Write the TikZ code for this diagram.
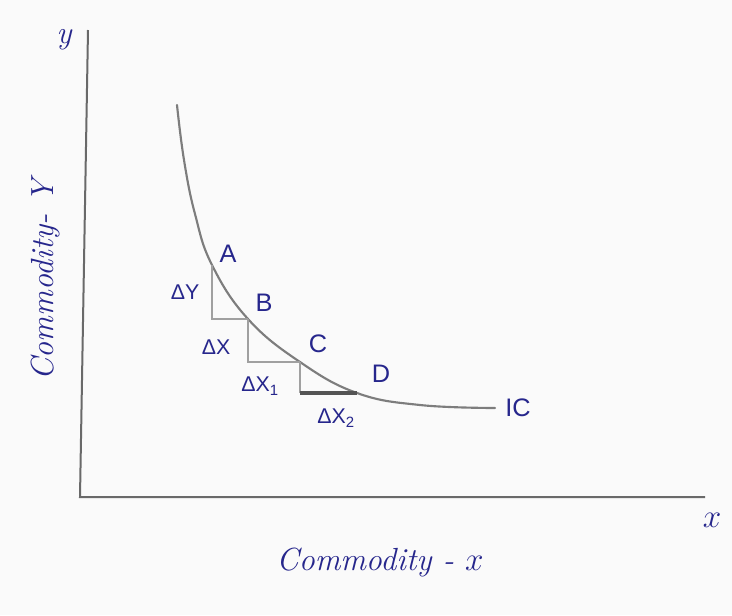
\documentclass[tikz,border=0pt]{standalone}
\usepackage{fontspec}
\newfontfamily\hand{Liberation Sans}
\definecolor{ink}{RGB}{38,38,140}
\definecolor{axisgray}{RGB}{105,105,105}
\definecolor{curvegray}{RGB}{125,125,125}
\definecolor{stepgray}{RGB}{160,160,160}
\definecolor{paper}{RGB}{250,250,250}
\tikzset{
  lbl/.style={text=ink, font=\hand\fontsize{19}{21}\selectfont, inner sep=0pt},
  dlbl/.style={text=ink, font=\hand\fontsize{16}{18}\selectfont, inner sep=0pt},
  axlbl/.style={text=ink, font=\fontsize{24}{26}\selectfont\itshape, inner sep=0pt},
  axisline/.style={draw=axisgray, line width=1.5pt},
  iccurve/.style={draw=curvegray, line width=1.6pt, line cap=round},
  stepline/.style={draw=stepgray, line width=1.3pt},
  thickstep/.style={draw=axisgray!80!black, line width=3pt}
}
\begin{document}
\begin{tikzpicture}[x=0.75pt, y=-0.75pt]
\fill[paper] (0,0) rectangle (732,615);
\useasboundingbox (0,0) rectangle (732,615);
% axes
\coordinate (ytop) at (88,30);
\coordinate (O) at (80,497);
\coordinate (xend) at (705,497);
\draw[axisline] (ytop) -- (O) -- (xend);
% curve points
\coordinate (S) at (177,105);
\coordinate (A) at (212,265);
\coordinate (B) at (248,319);
\coordinate (C) at (300,362);
\coordinate (D) at (357,393);
\coordinate (E) at (495,408);
\draw[iccurve] plot[smooth, tension=0.7] coordinates {(177,105) (184,160) (195,214) (212,265) (248,319) (300,362) (357,393) (420,405) (495,408)};
% steps
\draw[stepline] (A) -- (A|-B) -- (B);
\draw[stepline] (B) -- (B|-C) -- (C);
\draw[stepline] (C) -- (C|-D);
\draw[thickstep] (C|-D) -- (D);
% labels
\node[lbl] (lA) at (228,254) {A};
\node[lbl] (lB) at (264,303) {B};
\node[lbl] (lC) at (318,344) {C};
\node[lbl] (lD) at (381,374) {D};
\node[lbl] (lIC) at (518,408) {IC};
\node[dlbl] (dy) at (185,292) {ΔY};
\node[dlbl] (dx) at (216,347) {ΔX};
\node[dlbl] (dx1) at (260,386) {ΔX\textsubscript{1}};
\node[dlbl] (dx2) at (336,418) {ΔX\textsubscript{2}};
\node[axlbl] (ylab) at (64,40) {y};
\node[axlbl] (xlab) at (712,520) {$x$};
\node[axlbl] (cx) at (380,562) {Commodity - $x$};
\node[axlbl, rotate=90] (cy) at (45,280) {Commodity- Y};
\end{tikzpicture}
\end{document}
